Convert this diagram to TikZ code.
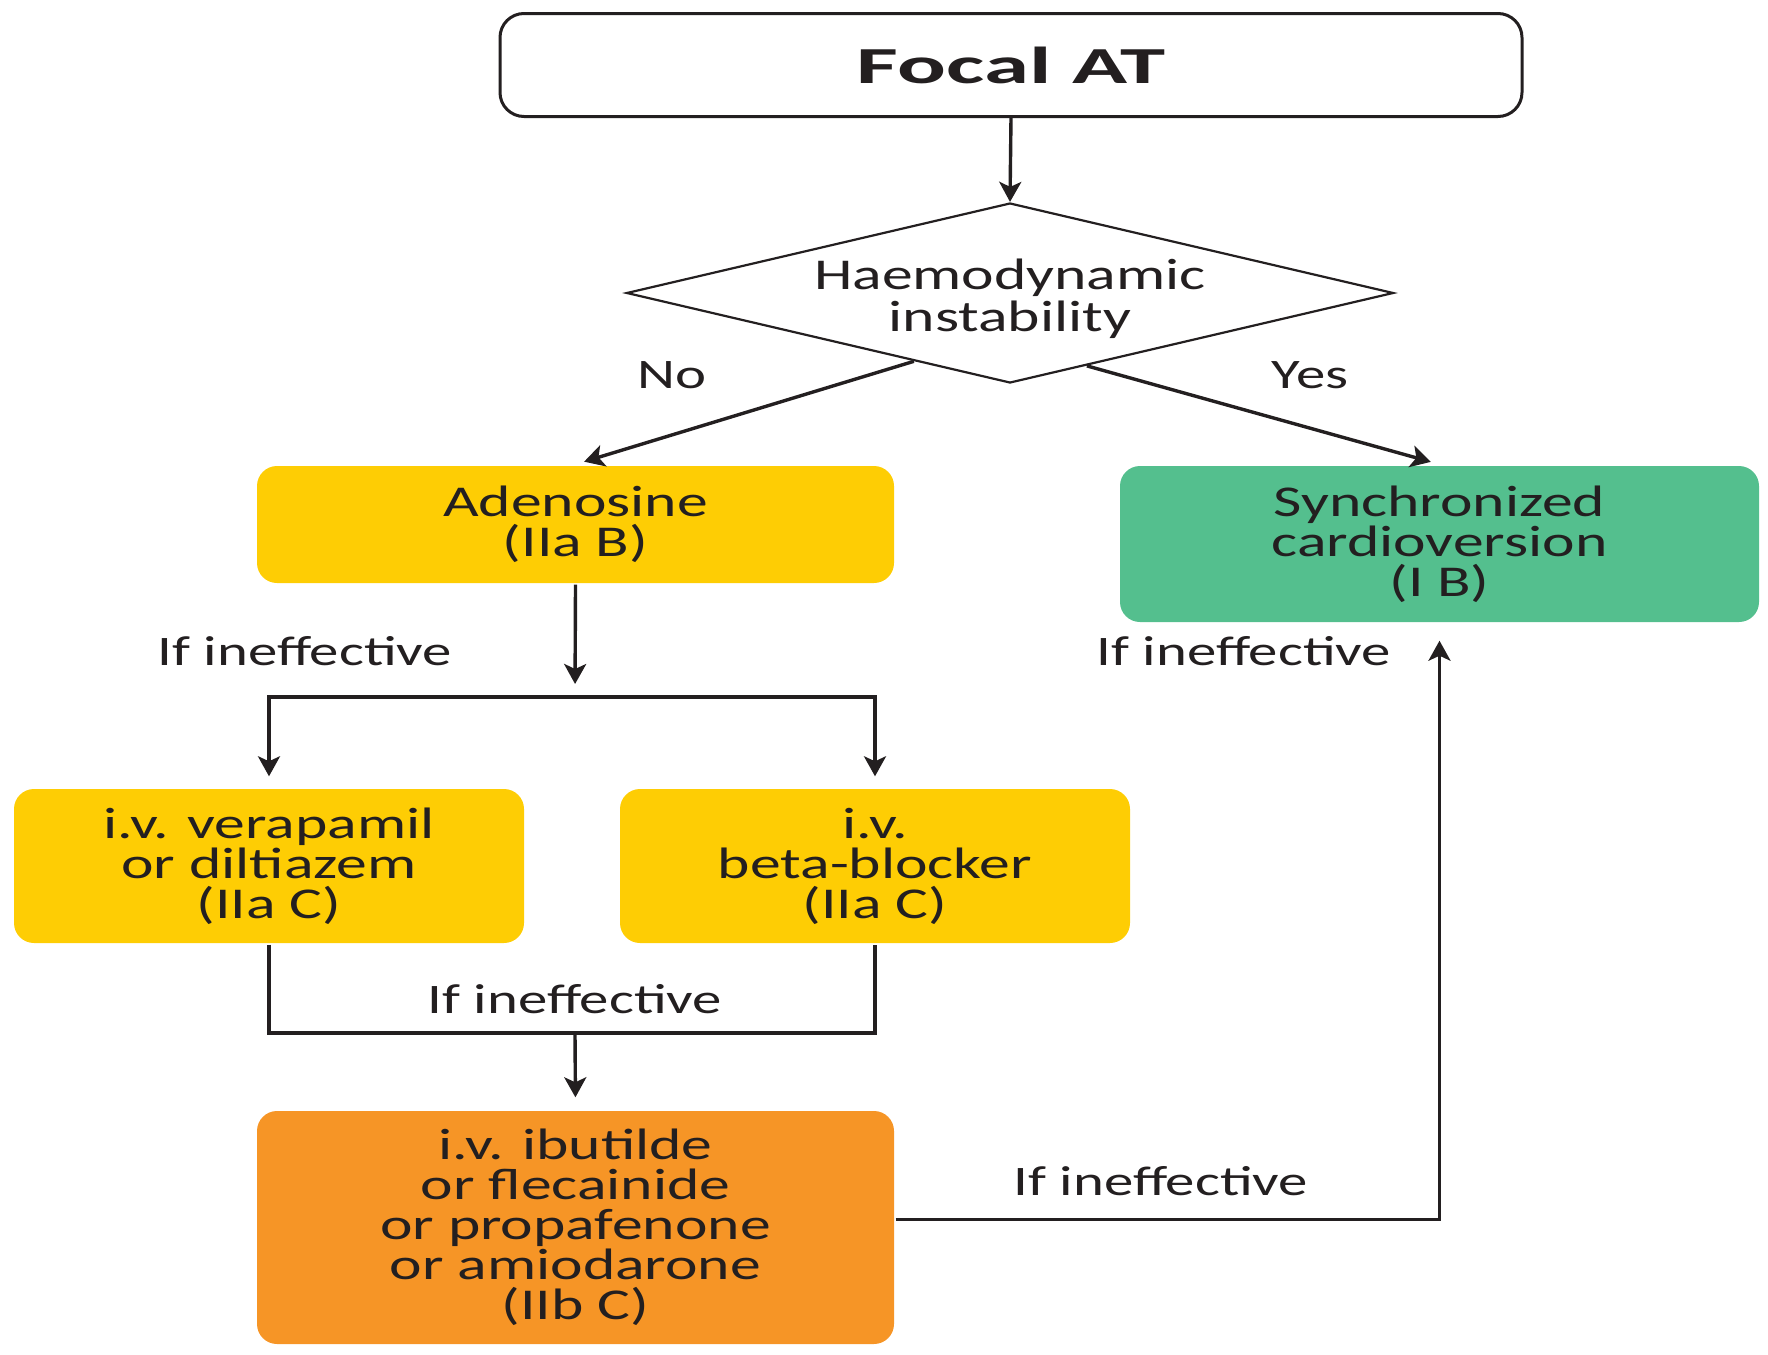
\documentclass[tikz,border=0pt]{standalone}
\usepackage{fontspec}
\setmainfont{Carlito}[FakeStretch=1.4]
\newfontfamily\titlefont{Carlito}[FakeStretch=1.75]
\usetikzlibrary{shapes.geometric,arrows.meta,calc}

\definecolor{ink}{RGB}{35,31,32}
\definecolor{amber}{RGB}{254,205,4}
\definecolor{jade}{RGB}{84,191,142}
\definecolor{tangerine}{RGB}{246,149,38}

\begin{document}
\begin{tikzpicture}[x=0.5pt,y=-0.5pt,>={Stealth[length=10pt,width=11pt,inset=2.5pt]},line width=1.7pt,draw=ink,
    box node/.style={rounded corners=10pt,inner sep=0pt,align=center,text=ink,font=\fontsize{22}{20}\selectfont},
    drug node/.style={box node,minimum width=318.5pt,minimum height=58.5pt},
    note node/.style={text=ink,inner sep=1pt,font=\fontsize{21}{20}\selectfont}]
    \useasboundingbox (0,0) rectangle (1768,1355);

    \node[box node,draw,line width=1.5pt,rounded corners=12pt,minimum width=511pt,minimum height=51.5pt,font=\fontsize{26}{26}\titlefont\bfseries] (focal) at (1011,65) {Focal AT};
    \node[diamond,draw,line width=1.1pt,inner sep=0pt,shape aspect=4.26,minimum width=383.5pt,minimum height=90pt,text=ink,font=\fontsize{22}{20}\selectfont] (haemo) at (1010,293) {\raisebox{-4pt}[\height][\depth]{\begin{tabular}{@{}c@{}}Haemodynamic\\instability\end{tabular}}};

    \node[drug node,fill=amber] (aden) at (575.5,524.5) {Adenosine\\(IIa B)};
    \node[drug node,fill=jade,minimum width=319.5pt,minimum height=78pt] (sync) at (1439.5,544) {Synchronized\\cardioversion\\(I B)};
    \node[drug node,fill=amber,minimum width=255pt,minimum height=77pt] (vera) at (269,866) {i.v. verapamil\\or diltiazem\\(IIa C)};
    \node[drug node,fill=amber,minimum width=255pt,minimum height=77pt] (beta) at (875,866) {i.v.\\beta-blocker\\(IIa C)};
    \node[drug node,fill=tangerine,minimum height=116.5pt] (ibut) at (575.5,1227.5) {i.v. ibutilde\\or flecainide\\or propafenone\\or amiodarone\\(IIb C)};

    \node[note node] (no) at (672,375) {No};
    \node[note node] (yes) at (1310,375) {Yes};
    \node[note node] (ineff1) at (305,651) {If ineffective};
    \node[note node] (ineff2) at (1244,651) {If ineffective};
    \node[note node] (ineff3) at (575,999) {If ineffective};
    \node[note node] (ineff4) at (1161,1181) {If ineffective};

    \coordinate (split) at (575,697);
    \coordinate (join) at (575,1033);

    \draw[->] (focal.south) -- (haemo.north);
    \draw[->,shorten >=4.5pt] ($(haemo.south)!0.25!(haemo.west)$) -- (aden.north);
    \draw[->,shorten >=4.5pt] ($(haemo.south)!0.2!(haemo.east)$) -- (sync.north);

    \draw[->,shorten >=6.5pt] (aden.south) -- (split);
    \draw[->,shorten >=5.5pt] (split) -| (vera.north);
    \draw[->,shorten >=5.5pt] (split) -| (beta.north);

    \draw (vera.south) |- (join) -| (beta.south);
    \draw[->,shorten >=6pt] (join) -- (ibut.north);

    \draw[->,shorten >=8.5pt] ([yshift=4pt]ibut.east) -| (sync.south);
\end{tikzpicture}
\end{document}
